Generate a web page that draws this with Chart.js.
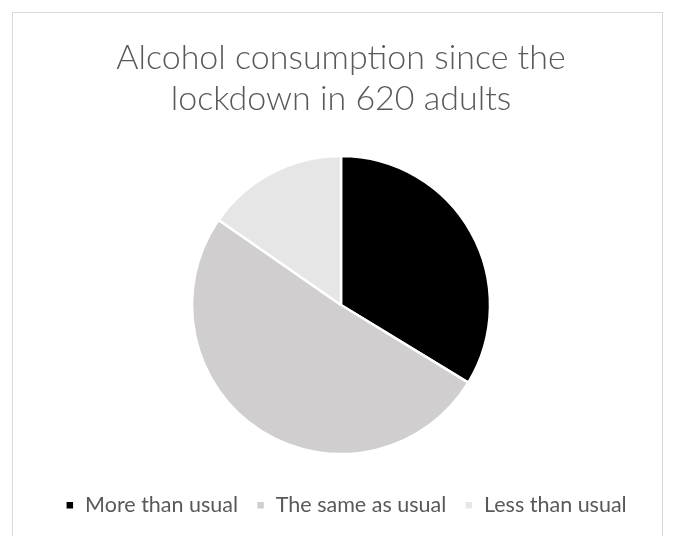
<!DOCTYPE html>
<html>
<head>
<meta charset="utf-8">
<script src="https://cdn.jsdelivr.net/npm/chart.js@4.4.0/dist/chart.umd.min.js"></script>
<style>
    html, body { margin: 0; padding: 0; background: #fff; }
    #frame {
        position: absolute;
        left: 12px;
        top: 12px;
        width: 651px;
        height: 540px;
        border: 1px solid #d9d9d9;
        box-sizing: border-box;
    }
    #wrap { position: absolute; left: 0; top: 0; width: 674px; height: 536px; }
</style>
</head>
<body>
<div id="frame"></div>
<div id="wrap"><canvas id="pieChart"></canvas></div>
<script>
// Alcohol consumption since lockdown, counts out of 620 adults
const categories = ['More than usual', 'The same as usual', 'Less than usual'];
const adultCounts = [209, 316, 95];
const sliceColors = ['#000000', '#d0cece', '#e7e6e6'];
const titleLines = ['Alcohol consumption since the', 'lockdown in 620 adults'];

// nudge the legend a few px right, the pie stays put
const legendNudge = {
    id: 'legendNudge',
    afterLayout(chart) {
        if (chart.legend) {
            chart.legend.left += 5;
            chart.legend.right += 5;
        }
    }
};

const ctx = document.getElementById('pieChart').getContext('2d');
const chart = new Chart(ctx, {
    type: 'pie',
    data: {
        labels: categories,
        datasets: [{
            data: adultCounts,
            backgroundColor: sliceColors,
            borderColor: '#ffffff',
            borderWidth: 2.5,
            radius: 149
        }]
    },
    options: {
        responsive: true,
        maintainAspectRatio: false,
        animation: false,
        layout: {
            padding: { left: 8, right: 0, top: 0, bottom: 10 }
        },
        plugins: {
            title: {
                display: true,
                text: titleLines,
                color: '#595959',
                font: { family: 'Lato', size: 34, weight: '300' },
                lineHeight: 1.22,
                padding: { top: 38, bottom: 14 }
            },
            legend: {
                position: 'bottom',
                labels: {
                    color: '#595959',
                    font: { family: 'Lato', size: 21.5 },
                    boxWidth: 9,
                    boxHeight: 9,
                    padding: 18
                }
            },
            tooltip: { enabled: false }
        }
    },
    plugins: [legendNudge]
});
</script>
</body>
</html>
